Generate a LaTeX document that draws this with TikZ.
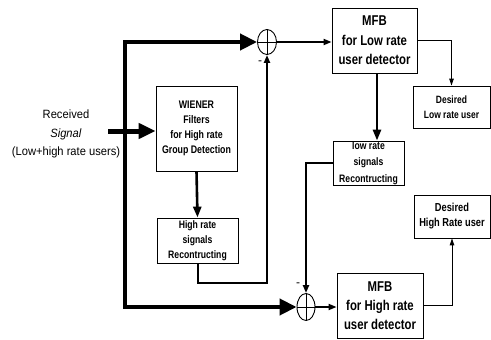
\documentclass[tikz,border=0pt]{standalone}
\usepackage{fontspec}
\setmainfont{Liberation Sans}
\newfontfamily\narrowsans[FakeStretch=0.8]{Liberation Sans}
\newfontfamily\recvfont[FakeStretch=0.93]{Liberation Sans}
\usetikzlibrary{arrows.meta,shapes.geometric,calc}

\tikzset{
  blk/.style={draw, line width=0.8pt, align=center, inner sep=0pt,
              font=\narrowsans\bfseries},
  sumnode/.style={draw, ellipse, line width=0.9pt, minimum width=19pt,
                  minimum height=25pt, inner sep=0pt},
  midtip/.style={-{Triangle[length=11pt,width=8pt]}},
  smalltip/.style={-{Triangle[length=8pt,width=6pt]}},
  thintip/.style={-{Triangle[length=7pt,width=4.5pt]}},
  minus/.style={font=\fontsize{12}{12}\selectfont, inner sep=0pt}
}

\begin{document}
\begin{tikzpicture}[x=1pt,y=-1pt]
  \useasboundingbox (0,0) rectangle (491,340);

  % processing blocks
  \node[blk, minimum width=81pt, minimum height=85pt,
        font=\narrowsans\bfseries\fontsize{11}{15}\selectfont]
        (wien) at (196.5,128.5) {WIENER\\Filters\\for High rate\\Group Detection};
  \node[blk, minimum width=81pt, minimum height=45pt,
        font=\narrowsans\bfseries\fontsize{10.8}{15}\selectfont]
        (hrec) at (197.5,240.5) {High rate\\signals\\Recontructing};
  \node[blk, minimum width=85pt, minimum height=65pt,
        font=\narrowsans\bfseries\fontsize{14.2}{19.5}\selectfont]
        (mfbl) at (374.5,40.5) {MFB\\for Low rate\\user detector};
  \node[blk, minimum width=71pt, minimum height=44pt,
        font=\narrowsans\bfseries\fontsize{10.8}{16.5}\selectfont]
        (lrec) at (368.5,163) {low rate\\signals\\Recontructing};
  \node[blk, minimum width=77pt, minimum height=42pt,
        font=\narrowsans\bfseries\fontsize{10.6}{15}\selectfont]
        (des1) at (451.5,107) {Desired\\Low rate user};
  \node[blk, minimum width=76pt, minimum height=43pt,
        font=\narrowsans\bfseries\fontsize{11.6}{15}\selectfont]
        (des2) at (452,216.5) {Desired\\High Rate user};
  \node[blk, minimum width=86pt, minimum height=65pt,
        font=\narrowsans\bfseries\fontsize{14.2}{19}\selectfont]
        (mfbh) at (380,305.5) {MFB\\for High rate\\user detector};

  % summing junctions
  \node[sumnode] (s1) at (267,42) {};
  \node[sumnode, minimum width=18pt, minimum height=27pt] (s2) at (306,307) {};
  \foreach \s in {s1,s2} {
    \draw[line width=0.7pt] (\s.north) -- (\s.south) (\s.west) -- (\s.east);
  }
  \node[minus] (m1) at (260,63) {-};
  \node[minus] (m2) at (298,285) {-};

  % input label
  \node[align=center, font=\recvfont\fontsize{12}{18.5}\selectfont]
        (rx) at (66,134) {Received\\\textit{Signal}\\(Low+high rate users)};

  % main signal bus
  \coordinate (tl) at (125,42);
  \coordinate (bl) at (125,307);
  \draw[line width=4pt, {Triangle[length=17pt,width=16pt]}-{Triangle[length=17pt,width=16pt]}]
        (s1.west) -- (tl) -- (bl) -- (s2.west);

  % received signal into the Wiener filters
  \coordinate (rxs) at (108,131);
  \draw[line width=5pt, -{Triangle[length=17pt,width=15pt]}] (rxs) -- (rxs -| wien.west);

  % high rate path
  \draw[line width=2.6pt, midtip] (wien.south) -- (hrec.north);
  \draw[line width=2pt, smalltip] (hrec.south) -- ++(0,20) -| (s1.south);

  % low rate detection
  \draw[line width=1.8pt, smalltip] (s1.east) -- (s1.east -| mfbl.west);
  \draw[line width=1pt, thintip] (mfbl.east) -| (des1.north);
  \draw[line width=2.6pt, midtip] ($(mfbl.south)+(2.5,0)$) -- ($(lrec.north)+(8.5,0)$);

  % low rate cancellation and high rate detection
  \draw[line width=2.2pt, smalltip] (lrec.west) -| (s2.north);
  \draw[line width=1.8pt, smalltip] (s2.east) -- (s2.east -| mfbh.west);
  \draw[line width=1pt, thintip] (mfbh.east) -| (des2.south);
\end{tikzpicture}
\end{document}
